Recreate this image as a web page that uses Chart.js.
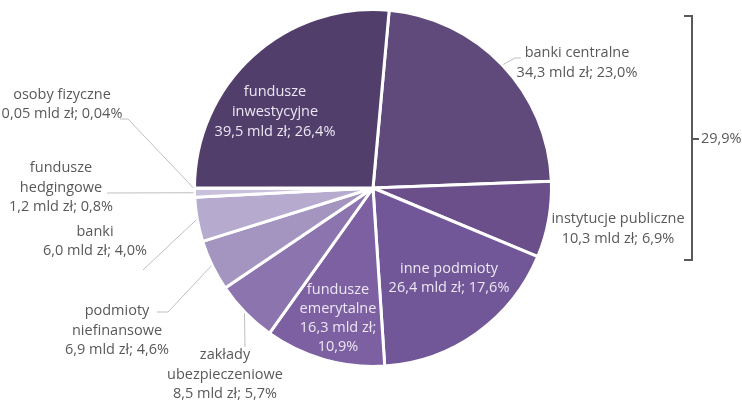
<!DOCTYPE html>
<html lang="pl">
<head>
<meta charset="utf-8">
<script src="https://cdn.jsdelivr.net/npm/chart.js@4.4.1/dist/chart.umd.min.js"></script>
<style>
  html, body { margin: 0; padding: 0; background: #ffffff; }
  #wrap { position: relative; width: 742px; height: 403px; }
</style>
</head>
<body>
<div id="wrap"><canvas id="chart" width="742" height="403"></canvas></div>
<script>
// Struktura inwestorów – wartości w mld zł i udziały w %
const categories = [
  'banki centralne', 'instytucje publiczne', 'inne podmioty', 'fundusze emerytalne',
  'zakłady ubezpieczeniowe', 'podmioty niefinansowe', 'banki', 'fundusze hedgingowe',
  'osoby fizyczne', 'fundusze inwestycyjne'
];
const valuesBn = [34.3, 10.3, 26.4, 16.3, 8.5, 6.9, 6.0, 1.2, 0.05, 39.5];
const valueText = ['34,3', '10,3', '26,4', '16,3', '8,5', '6,9', '6,0', '1,2', '0,05', '39,5'];
const shareText = ['23,0%', '6,9%', '17,6%', '10,9%', '5,7%', '4,6%', '4,0%', '0,8%', '0,04%', '26,4%'];
const bracketLabel = '29,9%';

const sliceColors = [
  '#604a7c', '#6a4f8b', '#715797', '#7c60a1', '#8c75ae',
  '#a494c0', '#b6abcf', '#c9c0dc', '#ddd7e8', '#523e6b'
];

// Label text lines per slice
const labelLines = [
  ['banki centralne', valueText[0] + ' mld zł; ' + shareText[0]],
  ['instytucje publiczne', valueText[1] + ' mld zł; ' + shareText[1]],
  ['inne podmioty', valueText[2] + ' mld zł; ' + shareText[2]],
  ['fundusze', 'emerytalne', valueText[3] + ' mld zł;', shareText[3]],
  ['zakłady', 'ubezpieczeniowe', valueText[4] + ' mld zł; ' + shareText[4]],
  ['podmioty', 'niefinansowe', valueText[5] + ' mld zł; ' + shareText[5]],
  ['banki', valueText[6] + ' mld zł; ' + shareText[6]],
  ['fundusze', 'hedgingowe', valueText[7] + ' mld zł; ' + shareText[7]],
  ['osoby fizyczne', valueText[8] + ' mld zł; ' + shareText[8]],
  ['fundusze', 'inwestycyjne', valueText[9] + ' mld zł; ' + shareText[9]]
];

// Placement of each label block: centre x, y of first line, line step, inside flag,
// and the leader path that follows the point on the slice edge.
const labelPlacement = [
  { x: 577, y: 53, step: 20, inside: false, leader: [[515, 58], [521, 58]] },
  { x: 618, y: 219, step: 20, inside: false, leader: null },
  { x: 449, y: 269, step: 19, inside: true, leader: null },
  { x: 338, y: 290, step: 19, inside: true, leader: null },
  { x: 225, y: 355, step: 19.5, inside: false, leader: [[245, 347]] },
  { x: 117, y: 311, step: 19.5, inside: false, leader: [[168, 312], [157, 312]] },
  { x: 95, y: 232, step: 19, inside: false, leader: [[143, 270]] },
  { x: 61, y: 168, step: 19.5, inside: false, leader: [[107, 193]] },
  { x: 62, y: 95, step: 18.5, inside: false, leader: [[128, 119], [120, 119]] },
  { x: 275, y: 92, step: 20, inside: true, leader: null }
];

const FONT = '14.5px "Open Sans", "Liberation Sans", sans-serif';

const labelPlugin = {
  id: 'sliceLabels',
  afterDatasetsDraw(chart) {
    const ctx = chart.ctx;
    const arcs = chart.getDatasetMeta(0).data;
    ctx.save();
    // leader lines
    ctx.strokeStyle = '#bfbfbf';
    ctx.lineWidth = 1;
    arcs.forEach((arc, i) => {
      const p = labelPlacement[i];
      if (!p.leader) return;
      const mid = (arc.startAngle + arc.endAngle) / 2;
      const sx = arc.x + Math.cos(mid) * (arc.outerRadius + 1);
      const sy = arc.y + Math.sin(mid) * (arc.outerRadius + 1);
      ctx.beginPath();
      ctx.moveTo(sx, sy);
      p.leader.forEach(pt => ctx.lineTo(pt[0], pt[1]));
      ctx.stroke();
    });
    // texts
    ctx.font = FONT;
    ctx.textAlign = 'center';
    ctx.textBaseline = 'middle';
    labelLines.forEach((lines, i) => {
      const p = labelPlacement[i];
      ctx.fillStyle = p.inside ? '#ece7f3' : '#595959';
      lines.forEach((t, k) => ctx.fillText(t, p.x, p.y + k * p.step));
    });
    // bracket grouping banki centralne + instytucje publiczne
    ctx.strokeStyle = '#595959';
    ctx.lineWidth = 2;
    ctx.beginPath();
    ctx.moveTo(684, 16);
    ctx.lineTo(692, 16);
    ctx.lineTo(692, 260);
    ctx.lineTo(684, 260);
    ctx.moveTo(692, 139);
    ctx.lineTo(699, 139);
    ctx.stroke();
    ctx.fillStyle = '#595959';
    ctx.textAlign = 'left';
    ctx.fillText(bracketLabel, 701, 139);
    ctx.restore();
  }
};

new Chart(document.getElementById('chart'), {
  type: 'pie',
  data: {
    labels: categories,
    datasets: [{
      data: valuesBn,
      backgroundColor: sliceColors,
      borderColor: '#ffffff',
      borderWidth: 3,
      hoverOffset: 0
    }]
  },
  options: {
    responsive: false,
    animation: false,
    rotation: 5.2,
    radius: 178.5,
    layout: { padding: { left: 196, top: 11, right: 192, bottom: 38 } },
    plugins: {
      legend: { display: false },
      tooltip: { enabled: false }
    },
    events: []
  },
  plugins: [labelPlugin]
});
</script>
</body>
</html>
